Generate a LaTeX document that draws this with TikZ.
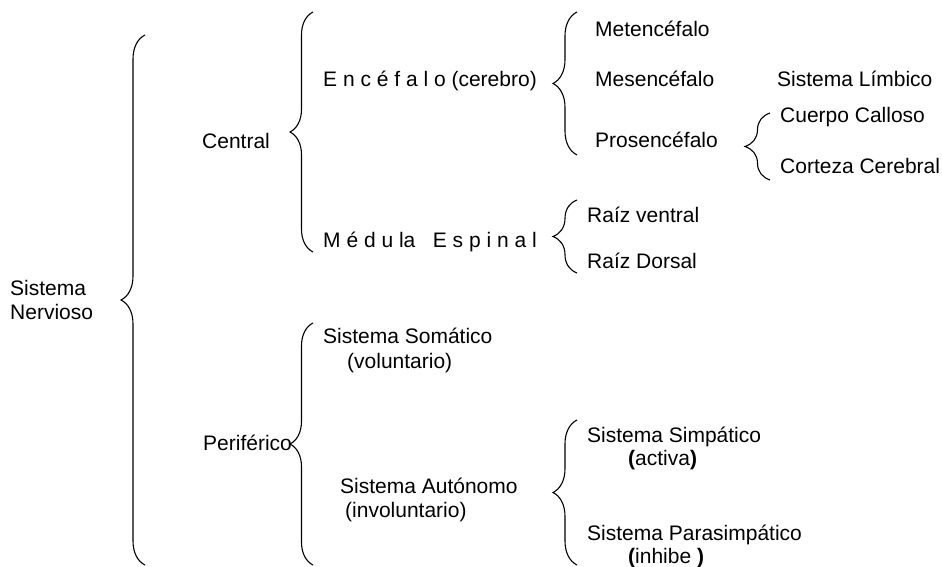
\documentclass[tikz,border=0pt]{standalone}
\usepackage{fontspec}
\setmainfont{Liberation Sans}
\usetikzlibrary{decorations.pathreplacing}

\tikzset{
  llave/.style={decorate,decoration={brace,amplitude=#1},line width=1.1pt},
  llave/.default=24pt,
  txt/.style={anchor=base west,inner sep=0pt,font=\fontsize{21}{24}\selectfont},
}

\begin{document}
\begin{tikzpicture}[x=1pt,y=-1pt]
            \useasboundingbox (0,0) rectangle (942,567);

            % nivel 1
            \node[txt] (sis) at (10,295) {Sistema};
            \node[txt] (ner) at (10,319) {Nervioso};
            \coordinate (sn-a) at (145,35);
            \coordinate (sn-b) at (145,565);
            \draw[llave] (sn-b) -- (sn-a);

            % nivel 2
            \node[txt] (cen) at (202,148) {Central};
            \node[txt] (per) at (203,450) {Periférico};
            \coordinate (ce-a) at (313,12);
            \coordinate (ce-b) at (313,252);
            \draw[llave=23pt] (ce-b) -- (ce-a);
            \coordinate (pe-a) at (313,323);
            \coordinate (pe-b) at (313,565);
            \draw[llave=23pt] (pe-b) -- (pe-a);

            % ramas del central
            \node[txt] (enc) at (323,87) {E n c é f a l o (cerebro)};
            \node[txt] (med) at (323,247) {M é d u la\ \ \ E s p i n a l};
            \coordinate (en-a) at (577,12);
            \coordinate (en-b) at (577,155);
            \draw[llave] (en-b) -- (en-a);
            \coordinate (me-a) at (577,200);
            \coordinate (me-b) at (577,273);
            \draw[llave] (me-b) -- (me-a);

            \node[txt] (met) at (595,37) {Metencéfalo};
            \node[txt] (mes) at (595,87) {Mesencéfalo};
            \node[txt] (pro) at (595,147) {Prosencéfalo};
            \node[txt] (lim) at (777,87) {Sistema Límbico};
            \coordinate (pr-a) at (770,113);
            \coordinate (pr-b) at (770,180);
            \draw[llave=25pt] (pr-b) -- (pr-a);
            \node[txt] (cal) at (780,123) {Cuerpo Calloso};
            \node[txt] (cor) at (780,173) {Corteza Cerebral};

            \node[txt] (rve) at (587,222) {Raíz ventral};
            \node[txt] (rdo) at (587,268) {Raíz Dorsal};

            % ramas del periférico
            \node[txt] (som) at (323,343) {Sistema Somático};
            \node[txt] (vol) at (347,368) {(voluntario)};
            \node[txt] (aut) at (340,493) {Sistema Autónomo};
            \node[txt] (inv) at (345,517) {(involuntario)};
            \coordinate (au-a) at (577,420);
            \coordinate (au-b) at (577,565);
            \draw[llave] (au-b) -- (au-a);

            \node[txt] (sim) at (587,442) {Sistema Simpático};
            \node[txt] (act) at (628,465) {\textbf{(}activa\textbf{)}};
            \node[txt] (par) at (587,540) {Sistema Parasimpático};
            \node[txt] (inh) at (628,563) {\textbf{(}inhibe \textbf{)}};
\end{tikzpicture}
\end{document}
